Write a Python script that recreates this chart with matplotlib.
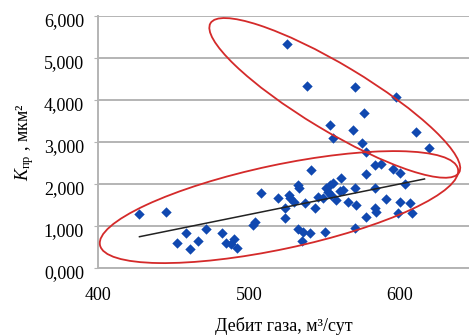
import matplotlib
matplotlib.use("Agg")
import matplotlib.pyplot as plt
from matplotlib.patches import Ellipse
from matplotlib.transforms import ScaledTranslation
from matplotlib.ticker import FuncFormatter, FixedLocator

plt.rcParams['font.family'] = ['Liberation Serif', 'DejaVu Serif']
plt.rcParams['mathtext.fontset'] = 'custom'
plt.rcParams['mathtext.rm'] = 'Liberation Serif'
plt.rcParams['mathtext.it'] = 'Liberation Serif:italic'

# Data: gas flow rate (m3/day) vs permeability (um2)
lower_x = [427.2, 444.8, 452.1, 458.1, 460.9, 466.2, 471.5, 481.9, 485.2, 490.5,
           492.3, 488.1, 502.8, 504.4, 508.1, 541.3, 532.5, 533.1, 519.4, 526.5,
           527.6, 529.8, 523.8, 523.8, 537.1, 543.7, 532.7, 536.0, 540.4, 535.3,
           550.3, 545.9, 551.5, 553.6, 555.8, 561.4, 552.5, 554.8, 549.2, 558.1,
           560.3, 562.4, 565.8, 571.3, 570.2, 570.2, 577.9, 583.4, 587.9, 595.6,
           600.0, 583.4, 603.3, 591.2, 600.0, 607.1, 583.4, 584.6, 577.9, 598.9,
           608.4]
lower_y = [1.28, 1.33, 0.60, 0.83, 0.45, 0.65, 0.92, 0.83, 0.60, 0.69,
           0.47, 0.57, 1.02, 1.10, 1.79, 2.33, 1.98, 1.90, 1.66, 1.74,
           1.66, 1.58, 1.44, 1.18, 1.54, 1.42, 0.93, 0.85, 0.83, 0.64,
           0.85, 1.70, 1.90, 1.98, 2.02, 2.14, 1.82, 1.74, 1.66, 1.62,
           1.83, 1.86, 1.58, 1.50, 1.90, 0.95, 2.25, 2.45, 2.48, 2.35,
           2.27, 1.90, 1.99, 1.64, 1.58, 1.55, 1.42, 1.34, 1.21, 1.30,
           1.32]
upper_x = [525.0, 538.9, 570.2, 597.7, 576.4, 554.1, 569.1, 555.8, 611.1, 575.0,
           619.4, 577.9]
upper_y = [5.33, 4.34, 4.32, 4.07, 3.70, 3.40, 3.29, 3.09, 3.23, 2.97,
           2.85, 2.77]
trend_x = [427.5, 616.5]
trend_y = [0.745, 2.12]

x_ticks = [400, 500, 600]
y_ticks = [0, 1, 2, 3, 4, 5, 6]

fig = plt.figure(figsize=(4.69, 3.35), dpi=100)
ax = fig.add_axes([98/469, 67/335, (469-98)/469, 252/335])
ax.set_xlim(400, 646)
ax.set_ylim(0, 6)

ax.yaxis.set_major_locator(FixedLocator(y_ticks))
ax.xaxis.set_major_locator(FixedLocator(x_ticks))
ax.yaxis.set_major_formatter(FuncFormatter(lambda v, p: f"{v:.3f}".replace('.', ',')))
ax.grid(axis='y', color='#b4b4b4', linewidth=1.4)
ax.set_axisbelow(True)
for s in ['top', 'right']:
    ax.spines[s].set_visible(False)
for s in ['left', 'bottom']:
    ax.spines[s].set_color('#b4b4b4')
    ax.spines[s].set_linewidth(1.4)
ax.tick_params(axis='y', length=3, color='#b4b4b4', labelsize=13, pad=7)
ax.tick_params(axis='x', length=0, labelsize=13, pad=14)

# shift y tick labels slightly down, as in the reference
shift = ScaledTranslation(0, -4/100, fig.dpi_scale_trans)
for lab in ax.get_yticklabels():
    lab.set_transform(lab.get_transform() + shift)

color = '#1048b0'
ax.scatter(lower_x + upper_x, lower_y + upper_y, marker='D', s=28, color=color,
           linewidths=0, zorder=3)
ax.plot(trend_x, trend_y, color='#222222', linewidth=1.1, zorder=4)

# red ellipses (annotation), centred in data coords, sized in inches
def ell(cx, cy, w, h, ang):
    tr = fig.dpi_scale_trans + ScaledTranslation(cx, cy, ax.transData)
    e = Ellipse((0, 0), w, h, angle=ang, transform=tr, fill=False,
                edgecolor='#d42a2a', linewidth=1.3, zorder=5, clip_on=False)
    ax.add_patch(e)

ell(557, 4.05, 2.90, 0.66, -31)
ell(520, 1.45, 3.66, 0.84, 12)

ax.set_xlabel('Дебит газа, м³/сут', fontsize=13, labelpad=9)
ax.set_ylabel(r'$\mathit{K}_{\mathrm{пр}}$ , мкм²', fontsize=13, labelpad=6)

fig.savefig('out.png', dpi=100)
